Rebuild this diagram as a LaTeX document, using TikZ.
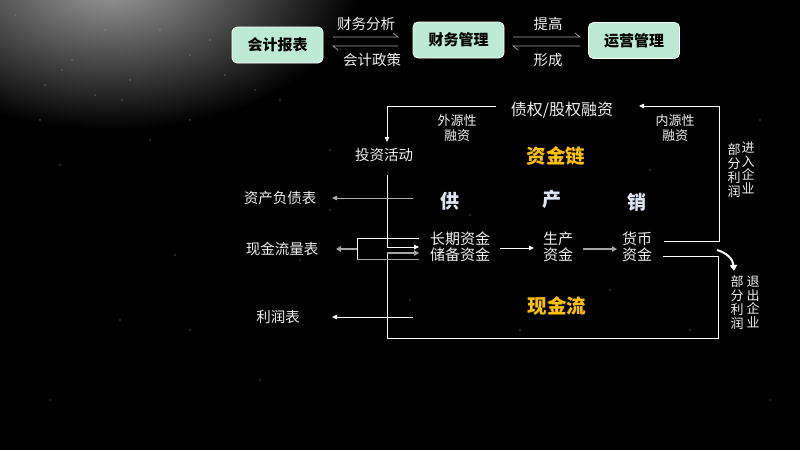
\documentclass[tikz,border=0pt]{standalone}
\usepackage{fontspec}
\setmainfont{Noto Sans CJK SC}
\usetikzlibrary{arrows.meta}
\definecolor{mint}{RGB}{188,234,212}
\definecolor{gold}{RGB}{255,192,0}
\definecolor{txt}{RGB}{240,240,240}
\definecolor{gy}{RGB}{165,165,165}
\definecolor{cpx}{RGB}{222,230,246}
\newcommand\fz[2]{\fontsize{#1pt}{#2pt}\selectfont}
\begin{document}
\begin{tikzpicture}[x=1pt,y=-1pt,
  every node/.style={inner sep=0pt, text=txt},
  box/.style={draw=white, line width=0.8pt, fill=mint, rounded corners=5pt,
    minimum width=91pt, minimum height=36pt, text=black, font=\fz{15}{18}\bfseries},
  lbl/.style={font=\fz{14.5}{17}},
  sml/.style={font=\fz{13}{15}, align=center},
  two/.style={font=\fz{15}{16}, align=center},
  vert/.style={font=\fz{13}{13.7}, align=center},
  big/.style={font=\fz{19.5}{22}\bfseries, text=gold},
  cps/.style={font=\fz{19}{22}\bfseries, text=cpx},
  ln/.style={draw=white, line width=0.8pt},
  arr/.style={ln, -{Triangle[length=5pt,width=4.5pt]}},
  garr/.style={draw=gy, line width=1.8pt, -{Triangle[length=5pt,width=5.5pt]}},
  harp/.style={draw=gy, line width=0.7pt}]
\useasboundingbox (0,0) rectangle (800,450);
\fill[black] (0,0) rectangle (800,450);
\begin{scope}
\clip (0,0) rectangle (800,450);
\shade[inner color=gray!75, outer color=black] (110,-20) ellipse [x radius=250, y radius=150];
\end{scope}
% stars
\foreach \p in {(15,15),(72,60),(45,85),(62,70),(105,30),(122,100),(40,120),(95,95),(130,80),(160,30),(190,55),(210,40),(225,75),(255,90),(280,100),(190,120),(150,140),(60,165),(175,255),(120,320),(190,330),(300,260),(330,210),(260,380),(410,300),(470,215),(520,330),(610,290),(690,330),(650,170),(760,120),(770,400),(50,400),(330,150)}
  \fill[gray!70] \p circle (0.7);
% top boxes
\node[box] (b1) at (277.5,45) {会计报表};
\node[box] (b2) at (458.5,40) {财务管理};
\node[box] (b3) at (634,40.5) {运营管理};
\node[lbl] (t1) at (366,24) {财务分析};
\node[lbl] (t2) at (372,60) {会计政策};
\node[lbl] (t3) at (548,24) {提高};
\node[lbl] (t4) at (548,60) {形成};
\coordinate (h1a) at (333,37); \coordinate (h1b) at (398,37);
\coordinate (h2a) at (333,46); \coordinate (h2b) at (398,46);
\coordinate (h3a) at (513,37); \coordinate (h3b) at (580,37);
\coordinate (h4a) at (513,46); \coordinate (h4b) at (580,46);
\draw[harp] (h1a) -- (h1b) -- ++(-5,-4);
\draw[harp] (h2b) -- (h2a) -- ++(5,4);
\draw[harp] (h3a) -- (h3b) -- ++(-5,-4);
\draw[harp] (h4b) -- (h4a) -- ++(5,4);
% main diagram texts
\node[font=\fz{16}{18}] (rz) at (562,110) {债权/股权融资};
\node[lbl] (tz) at (384,155) {投资活动};
\node[sml] (wy) at (457,128) {外源性\\融资};
\node[sml] (ny) at (675,128) {内源性\\融资};
\node[big] (zjl) at (556,156) {资金链};
\node[cps] (g) at (450,201) {供};
\node[cps] (c) at (552,199) {产};
\node[cps] (x) at (637,202) {销};
\node[lbl] (zc) at (280,198) {资产负债表};
\node[lbl] (xj) at (282,249) {现金流量表};
\node[lbl] (lr) at (278,317) {利润表};
\node[font=\fz{15}{16}] (cq) at (460,239) {长期资金};
\node[font=\fz{15}{16}] (cb) at (460,255) {储备资金};
\node[two] (sc) at (558,247) {生产\\资金};
\node[two] (hb) at (637,247) {货币\\资金};
\node[big] (xjl) at (557,306) {现金流};
\node[vert] (v1) at (734,170.5) {部\\分\\利\\润};
\node[vert] (v2) at (748,168) {进\\入\\企\\业};
\node[vert] (v3) at (737,302.5) {部\\分\\利\\润};
\node[vert] (v4) at (753,302) {退\\出\\企\\业};
% connectors
\coordinate (rzl) at (496,106);
\coordinate (tzt) at (387,142);
\draw[arr] (rzl) -- (387,106) -- (tzt);
\coordinate (hbt) at (664,241);
\coordinate (rzr) at (639,106);
\draw[arr] (hbt) -- (719,241) -- (719,106) -- (rzr);
\coordinate (hbb) at (663,256);
\coordinate (cbi) at (419,253);
\draw[ln] (hbb) -- (718,256) -- (718,338) -- (387,338) -- (387,253);
\draw[garr] (387,253) -- (cbi);
\coordinate (tzb) at (387,175);
\coordinate (cqi) at (419,247);
\draw[arr] (tzb) -- (387,247) -- (cqi);
\coordinate (bt) at (419,238); \coordinate (bb) at (419,259);
\draw[ln] (bt) -- (357,238) -- (357,259);
\draw[draw=gy, line width=0.8pt] (357,259) -- (bb);
\coordinate (xjr) at (336,249);
\draw[garr] (357,249) -- (xjr);
\coordinate (gl) at (413,198); \coordinate (zcr) at (332,198);
\draw[arr, draw=gy!90] (gl) -- (zcr);
\coordinate (ll) at (413,317); \coordinate (lrr) at (332,317);
\draw[arr] (ll) -- (lrr);
\coordinate (cqo) at (500,248); \coordinate (sci) at (534,248);
\draw[arr] (cqo) -- (sci);
\coordinate (sco) at (583,249); \coordinate (hbi) at (617,249);
\draw[garr] (sco) -- (hbi);
\coordinate (ca) at (717,250); \coordinate (cz) at (734,271);
\draw[draw=white, line width=2pt, -{Triangle[length=6pt,width=7pt]}] (ca) .. controls (727,253) and (733,259) .. (cz);
\end{tikzpicture}
\end{document}
